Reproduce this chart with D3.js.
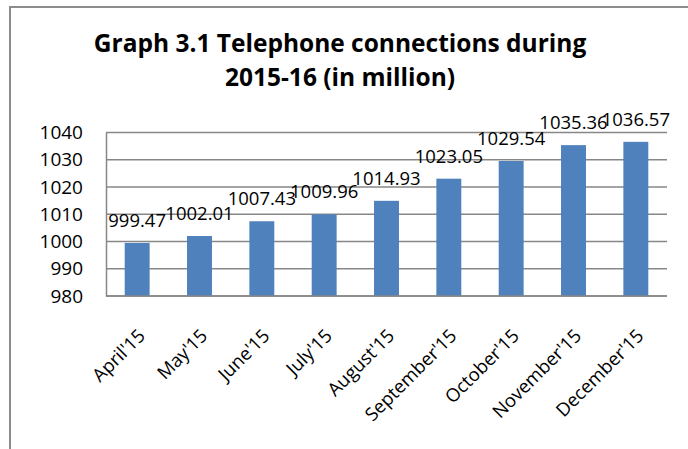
<!DOCTYPE html>
<html>
<head>
<meta charset="utf-8">
<script src="https://cdn.jsdelivr.net/npm/d3@7"></script>
<style>
  html, body { margin: 0; padding: 0; background: #fff; }
  svg { display: block; }
  text { font-family: "Open Sans", "Liberation Sans", sans-serif; fill: #000; }
</style>
</head>
<body>
<svg id="chart" width="688" height="449"></svg>
<script>
// Telephone connections by month, 2015-16 (in million)
const months = ["April'15", "May'15", "June'15", "July'15", "August'15",
                "September'15", "October'15", "November'15", "December'15"];
const connections = [999.47, 1002.01, 1007.43, 1009.96, 1014.93,
                     1023.05, 1029.54, 1035.36, 1036.57];
const yTicks = [980, 990, 1000, 1010, 1020, 1030, 1040];
const titleLines = ["Graph 3.1 Telephone connections during", "2015-16 (in million)"];

const svg = d3.select("#chart");
const W = 688, H = 449;
const plot = { left: 106, right: 667, top: 132.5, bottom: 296 };

// outer frame (top and left edges)
svg.append("path")
  .attr("d", `M10,${H} L10,7 L${W},7`)
  .attr("fill", "none")
  .attr("stroke", "#8c8c8c")
  .attr("stroke-width", 2);

// title
const title = svg.append("text")
  .attr("text-anchor", "middle")
  .style("font-weight", "700")
  .style("font-size", "24.5px");
title.selectAll("tspan").data(titleLines).join("tspan")
  .attr("x", 340)
  .attr("y", (d, i) => 52 + i * 34)
  .text(d => d);

const x = d3.scaleBand().domain(months).range([plot.left, plot.right]).paddingInner(0.6).paddingOuter(0.3);
const y = d3.scaleLinear().domain([980, 1040]).range([plot.bottom, plot.top]);

// horizontal gridlines
svg.append("g")
  .selectAll("line").data(yTicks).join("line")
  .attr("x1", plot.left).attr("x2", plot.right)
  .attr("y1", d => y(d)).attr("y2", d => y(d))
  .attr("stroke", "#878787")
  .attr("stroke-width", 1.5);

// y axis labels
const yAxis = d3.axisLeft(y).tickValues(yTicks).tickSize(0).tickPadding(23).tickFormat(d3.format("d"));
const gy = svg.append("g").attr("transform", `translate(${plot.left},0)`).call(yAxis);
gy.select(".domain").attr("stroke", "#878787").attr("stroke-width", 1.5);
gy.selectAll("text")
  .style("font-family", "\"Open Sans\", sans-serif")
  .style("font-size", "19px")
  .attr("fill", "#000");

// bars
svg.append("g")
  .selectAll("rect").data(connections).join("rect")
  .attr("x", (d, i) => x(months[i]))
  .attr("width", x.bandwidth())
  .attr("y", d => y(d))
  .attr("height", d => y(980) - y(d))
  .attr("fill", "#4f81bd");

// baseline
svg.append("line")
  .attr("x1", plot.left).attr("x2", plot.right)
  .attr("y1", plot.bottom).attr("y2", plot.bottom)
  .attr("stroke", "#878787").attr("stroke-width", 1.5);

// value labels
svg.append("g")
  .selectAll("text").data(connections).join("text")
  .attr("x", (d, i) => x(months[i]) + x.bandwidth() / 2)
  .attr("y", d => y(d) - 16)
  .attr("text-anchor", "middle")
  .style("font-size", "18.5px")
  .text(d => d.toFixed(2));

// rotated month labels
svg.append("g")
  .selectAll("text").data(months).join("text")
  .attr("transform", d => `translate(${x(d) + x.bandwidth() / 2 + 9},${plot.bottom + 41}) rotate(-45)`)
  .attr("text-anchor", "end")
  .style("font-size", "18.5px")
  .text(d => d);
</script>
</body>
</html>
